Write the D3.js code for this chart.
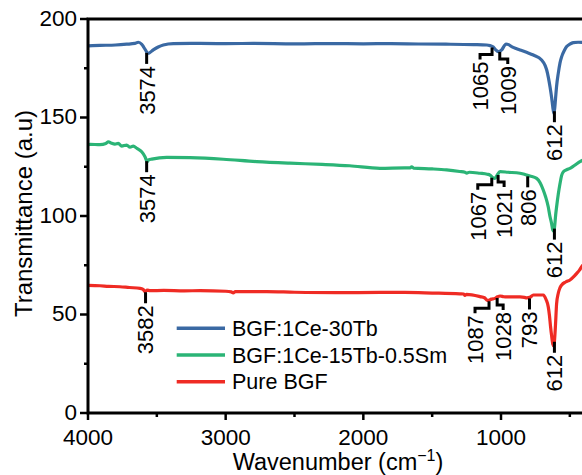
<!DOCTYPE html>
<html><head><meta charset="utf-8">
<script src="https://cdn.jsdelivr.net/npm/d3@7"></script>
<style>body{margin:0;background:#fff}svg{display:block;font-family:"Liberation Sans",Arial,sans-serif}</style>
</head><body><svg id="c" width="582" height="475"></svg>
<script>
const seriesNames = ["BGF:1Ce-30Tb", "BGF:1Ce-15Tb-0.5Sm", "Pure BGF"];
const seriesColors = ["#3a69a3", "#2bb476", "#ef2b24"];

const blueWn = [4000,3913,3800,3719,3660,3635,3610,3598,3580,3568,3555,3526,3490,3453,3380,3186,3000,2800,2500,2200,2000,1800,1600,1400,1200,1104,1080,1056,1040,1020,995,975,964,945,923,890,862,810,765,705,680,668,655,644,632,624,616,610,604,596,584,572,559,540,523,500,475,440,400];
const blueVal = [186.4,186.6,186.8,187.2,187.6,188.2,187.2,186.0,184.0,182.6,182.8,184.3,185.8,186.8,187.5,187.6,187.5,187.6,187.4,187.5,187.4,187.5,187.3,187.2,187.0,186.8,186.5,185.8,184.5,183.4,184.3,186.5,187.3,187.0,186.0,185.0,184.3,183.0,181.7,179.2,176.5,174.1,170.0,165.6,160.0,155.5,152.1,154.5,159.5,166.0,172.4,177.5,180.9,184.0,186.0,187.2,188.0,188.2,188.0];

const greenWn = [4000,3985,3913,3870,3852,3828,3804,3780,3755,3719,3695,3671,3646,3610,3586,3569,3560,3537,3428,3259,3017,2775,2533,2300,2100,1879,1700,1660,1649,1635,1500,1395,1300,1262,1249,1230,1153,1100,1080,1060,1044,1030,1007,950,862,830,813,790,741,715,693,675,657,645,632,624,616,610,603,596,584,571,560,547,520,499,470,440,426,400];
const greenVal = [136.2,136.4,136.2,136.8,137.7,136.9,136.5,136.9,135.5,136.0,134.9,135.5,134.4,132.6,130.1,127.6,128.5,128.9,129.8,129.6,128.8,127.6,126.8,126.2,125.5,124.2,124.4,124.4,125.0,124.3,123.9,123.4,122.6,122.2,121.8,122.2,121.7,121.2,120.8,119.5,119.1,120.5,122.5,122.2,121.7,121.2,120.8,120.3,119.1,116.8,113.2,109.5,104.7,100.0,96.0,93.0,92.3,95.0,100.5,104.7,111.0,116.6,120.5,122.5,123.6,124.2,125.5,127.0,127.6,128.5];

const redWn = [4000,3913,3850,3768,3700,3622,3600,3586,3570,3550,3450,3300,3186,3000,2960,2945,2930,2702,2500,2200,1879,1700,1500,1300,1270,1262,1250,1153,1120,1104,1090,1070,1044,1025,1007,980,959,862,830,813,790,765,693,672,657,648,640,632,624,616,610,604,596,584,572,559,530,499,470,450,430,414,400];
const redVal = [64.8,64.6,64.3,64.1,63.7,63.3,62.8,61.6,62.4,62.1,62.2,62.0,62.1,61.8,61.5,61.0,61.6,61.6,61.3,61.1,61.2,61.2,60.9,60.5,60.4,59.7,60.2,59.1,58.5,57.4,57.2,57.8,58.2,59.0,59.4,59.0,58.9,58.9,58.7,58.4,58.7,59.9,59.9,57.5,54.0,49.5,43.8,39.0,35.0,34.0,38.0,45.0,55.5,60.8,63.5,65.0,66.5,67.5,69.3,70.9,72.5,74.3,75.5];

const blueLabels = ["3574","1065","1009","612"];
const greenLabels = ["3574","1067","1021","806","612"];
const redLabels = ["3582","1087","1028","793","612"];

const xTicks = [4000,3000,2000,1000];
const xMinorTicks = [3500,2500,1500,500];
const yTicks = [0,50,100,150,200];
const yMinorTicks = [25,75,125,175];

// layout (pixel shifts of leader text, not data)
const labelShift = {"1065":-12,"1009":8,"1067":-14,"1021":6,"1087":-14,"1028":6};

const svg = d3.select("#c");
const x = d3.scaleLinear().domain([4000,400]).range([88,583.6]);
const y = d3.scaleLinear().domain([0,200]).range([413,19]);

const series = [
  {wn: blueWn, val: blueVal, labels: blueLabels},
  {wn: greenWn, val: greenVal, labels: greenLabels},
  {wn: redWn, val: redVal, labels: redLabels}
];

const line = d3.line().x(d=>x(d[0])).y(d=>y(d[1])).curve(d3.curveMonotoneX);
const plot = svg.append("g");
series.slice().reverse().forEach((s,ri)=>{
  const i = 2-ri;
  plot.append("path").datum(s.wn.map((w,k)=>[w,s.val[k]]))
    .attr("d",line).attr("fill","none").attr("stroke",seriesColors[i])
    .attr("stroke-width",3.2).attr("stroke-linejoin","round");
});

function interp(s, w){
  for(let k=0;k<s.wn.length-1;k++){
    const a=s.wn[k], b=s.wn[k+1];
    if(w<=a && w>=b){ const t=(a-w)/(a-b); return s.val[k]+(s.val[k+1]-s.val[k])*t; }
  }
  return s.val[s.val.length-1];
}
const ann = svg.append("g");
series.forEach(s=>{
  s.labels.forEach(lbl=>{
    const w = +lbl;
    const px = x(w), py = y(interp(s,w));
    const sh = labelShift[lbl] || 0;
    let d, top;
    if(sh===0){
      d = `M${px},${py+1}V${py+12}`; top = py+14;
    } else {
      d = `M${px},${py+1}V${py+8}H${px+sh}V${py+13}`; top = py+15;
    }
    ann.append("path").attr("d",d).attr("fill","none").attr("stroke","#000").attr("stroke-width",3);
    ann.append("text").attr("transform",`translate(${px+sh},${top}) rotate(-90)`)
      .attr("text-anchor","end").attr("dy","0.36em").attr("font-size",22).text(lbl);
  });
});

const frame = svg.append("g").attr("stroke","#000").attr("stroke-width",3).attr("fill","none");
frame.append("path").attr("d",`M${x(4000)},${y(0)}H${x(400)}V${y(200)}H${x(4000)}Z`);
const tk = svg.append("g").attr("stroke","#000").attr("stroke-width",2.5);
xTicks.forEach(t=>tk.append("line").attr("x1",x(t)).attr("x2",x(t)).attr("y1",y(0)).attr("y2",y(0)+7));
xMinorTicks.forEach(t=>tk.append("line").attr("x1",x(t)).attr("x2",x(t)).attr("y1",y(0)).attr("y2",y(0)+4));
yTicks.forEach(t=>tk.append("line").attr("x1",x(4000)).attr("x2",x(4000)-8).attr("y1",y(t)).attr("y2",y(t)));
yMinorTicks.forEach(t=>tk.append("line").attr("x1",x(4000)).attr("x2",x(4000)-4).attr("y1",y(t)).attr("y2",y(t)));

const tl = svg.append("g").attr("font-size",22.5).attr("fill","#000");
xTicks.forEach(t=>tl.append("text").attr("x",x(t)).attr("y",445).attr("text-anchor","middle").text(t));
yTicks.forEach(t=>tl.append("text").attr("x",77).attr("y",y(t)).attr("dy","0.3em").attr("text-anchor","end").text(t));

const xt = svg.append("text").attr("x",338).attr("y",470).attr("text-anchor","middle").attr("font-size",23.5);
xt.append("tspan").text("Wavenumber (cm");
xt.append("tspan").attr("dy",-9).attr("font-size",16).text("\u22121");
xt.append("tspan").attr("dy",9).text(")");
svg.append("text").attr("transform","translate(32,213.5) rotate(-90)").attr("text-anchor","middle")
  .attr("font-size",24).text("Transmittance (a.u)");

const lg = svg.append("g");
const legY = [328.3,355,381.7];
seriesNames.forEach((n,i)=>{
  lg.append("line").attr("x1",176.7).attr("x2",225).attr("y1",legY[i]).attr("y2",legY[i])
    .attr("stroke",seriesColors[i]).attr("stroke-width",3.5);
  lg.append("text").attr("x",232).attr("y",legY[i]).attr("dy","0.36em").attr("font-size",21.5).text(n);
});
</script></body></html>
